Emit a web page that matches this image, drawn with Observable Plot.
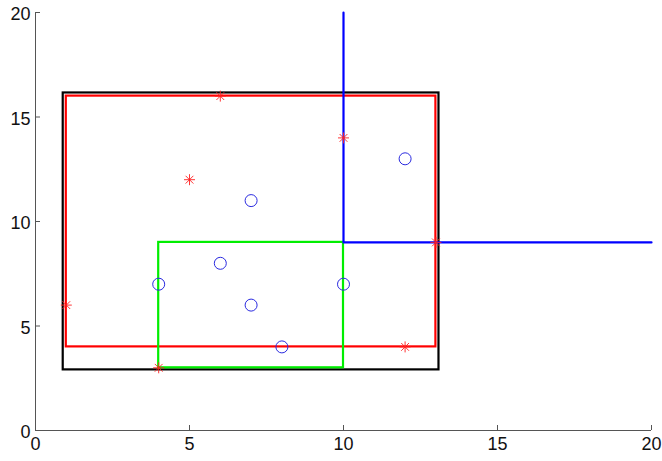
<!DOCTYPE html>
<html><head><meta charset="utf-8">
<script src="https://cdn.jsdelivr.net/npm/d3@7"></script>
<script src="https://cdn.jsdelivr.net/npm/@observablehq/plot@0.6"></script>
<style>body{margin:0;background:#fff}</style>
</head><body><div id="chart"></div>
<script>
// Tick values
const xTicks = [0, 5, 10, 15, 20];
const yTicks = [0, 5, 10, 15, 20];

// Rectangles (bounds)
const rectNames = ["bounding", "red", "green"];
const rectX1 = [0.9, 1, 4];
const rectX2 = [13.1, 13, 10];
const rectY1 = [2.9, 4, 3];
const rectY2 = [16.15, 16, 9];

// Blue dividing lines
const blueLineX = [10, 10, 20];
const blueLineY = [20, 9, 9];

// Red star points
const starX = [1, 4, 5, 6, 10, 12, 13];
const starY = [6, 3, 12, 16, 14, 4, 9];

// Blue circle points
const circleX = [4, 6, 7, 7, 8, 10, 12];
const circleY = [7, 8, 11, 6, 4, 7, 13];

const rectColor = {bounding: "#000000", red: "#ff0000", green: "#00ee00"};

const rects = rectNames.map((n, i) => ({name: n, x1: rectX1[i], x2: rectX2[i], y1: rectY1[i], y2: rectY2[i]}));
const blueLine = blueLineX.map((x, i) => ({x, y: blueLineY[i]}));
const stars = starX.map((x, i) => ({x, y: starY[i]}));
const circles = circleX.map((x, i) => ({x, y: circleY[i]}));

const asterisk = {
  draw(ctx, size) {
    const r = Math.sqrt(size / Math.PI);
    const d = r * Math.SQRT1_2;
    ctx.moveTo(-r, 0); ctx.lineTo(r, 0);
    ctx.moveTo(0, -r); ctx.lineTo(0, r);
    ctx.moveTo(-d, -d); ctx.lineTo(d, d);
    ctx.moveTo(-d, d); ctx.lineTo(d, -d);
  }
};

const chart = Plot.plot({
  width: 662,
  height: 461,
  marginLeft: 35,
  marginRight: 11,
  marginTop: 12,
  marginBottom: 31,
  style: {fontFamily: "'Liberation Sans', Arial, sans-serif", fontSize: "18px", color: "#111", background: "#fff"},
  x: {domain: [0, 20]},
  y: {domain: [0, 20]},
  marks: [
    Plot.ruleX([0], {stroke: "#555", strokeWidth: 1}),
    Plot.ruleY([0], {stroke: "#555", strokeWidth: 1}),
    Plot.axisX(xTicks, {tickSize: -5, tickFormat: () => "", stroke: "#555", label: null}),
    Plot.axisY(yTicks, {tickSize: -5, tickFormat: () => "", stroke: "#555", label: null}),
    Plot.axisX(xTicks, {tickSize: 0, tickPadding: 7, fill: "#111", fontSize: 18, label: null}),
    Plot.axisY(yTicks, {tickSize: 0, tickPadding: 5, dy: 2, fill: "#111", fontSize: 18, label: null}),
    Plot.rect(rects, {x1: "x1", x2: "x2", y1: "y1", y2: "y2", fill: "none", stroke: d => rectColor[d.name], strokeWidth: 2.2}),
    Plot.line(blueLine, {x: "x", y: "y", stroke: "#0000ff", strokeWidth: 2.2}),
    Plot.dot(circles, {x: "x", y: "y", r: 6, stroke: "#2a2ae0", strokeWidth: 1, fill: "none"}),
    Plot.dot(stars, {x: "x", y: "y", r: 5.5, symbol: asterisk, stroke: "#ff2020", strokeWidth: 0.9, fill: "none"})
  ]
});
document.getElementById("chart").appendChild(chart);
</script>
</body></html>
